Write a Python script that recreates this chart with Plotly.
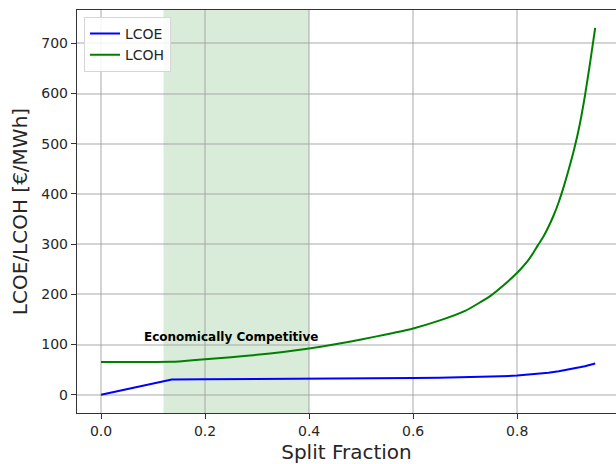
import plotly.graph_objects as go

# Data
lcoe_split = [0.0, 0.136, 0.20, 0.30, 0.40, 0.50, 0.60, 0.65, 0.70, 0.75, 0.80,
              0.83, 0.86, 0.88, 0.90, 0.91, 0.92, 0.93, 0.94, 0.95]
lcoe = [0.0, 30.3, 30.5, 30.8, 31.2, 32.0, 33.0, 33.7, 34.5, 36.0, 38.0,
        40.3, 43.5, 46.5, 50.0, 52.2, 54.5, 56.8, 59.3, 62.0]

lcoh_split = [0.0, 0.05, 0.10, 0.136, 0.15, 0.20, 0.25, 0.30, 0.35, 0.40, 0.45,
              0.50, 0.55, 0.60, 0.65, 0.70, 0.75, 0.775, 0.80, 0.81, 0.82, 0.83,
              0.84, 0.85, 0.86, 0.87, 0.88, 0.89, 0.90, 0.91, 0.92, 0.93, 0.94, 0.95]
lcoh = [65.3, 65.3, 65.3, 65.5, 66.3, 70.5, 74.5, 79.5, 85.0, 92.0, 100.5,
        110.0, 120.5, 132.0, 147.5, 167.0, 198.0, 219.0, 243.0, 254.0, 266.0, 281.0,
        298.0, 314.0, 334.0, 357.0, 384.0, 416.0, 452.0, 491.0, 537.0, 594.0, 660.0, 731.0]

competitive_range = [0.12, 0.40]
annotation_text = "Economically Competitive"
annotation_pos = [0.25, 115]
x_ticks = [0.0, 0.2, 0.4, 0.6, 0.8]
x_tick_labels = ["0.0", "0.2", "0.4", "0.6", "0.8"]
y_ticks = [0, 100, 200, 300, 400, 500, 600, 700]

FONT = "DejaVu Sans"

fig = go.Figure()
fig.add_trace(go.Scatter(x=lcoe_split, y=lcoe, mode="lines", name="LCOE",
                         line=dict(color="blue", width=2)))
fig.add_trace(go.Scatter(x=lcoh_split, y=lcoh, mode="lines", name="LCOH",
                         line=dict(color="green", width=2, shape="spline", smoothing=0.6)))

fig.add_vrect(x0=competitive_range[0], x1=competitive_range[1],
              fillcolor="green", opacity=0.15, line_width=0, layer="below")

fig.add_annotation(x=annotation_pos[0], y=annotation_pos[1],
                   text="<b>" + annotation_text + "</b>", showarrow=False,
                   font=dict(family=FONT, size=12, color="black"))

fig.update_layout(
    width=616, height=464, autosize=False,
    margin=dict(l=77, r=0, t=10, b=51),
    paper_bgcolor="white", plot_bgcolor="white",
    font=dict(family=FONT, size=14, color="#262626"),
    showlegend=True,
    legend=dict(x=0.013, y=0.983, xanchor="left", yanchor="top",
                bgcolor="rgba(255,255,255,0.85)", bordercolor="#d6d6d6",
                borderwidth=1, font=dict(family=FONT, size=14, color="#262626")),
    xaxis=dict(range=[-0.0462, 0.99], tickvals=x_ticks, ticktext=x_tick_labels,
               showgrid=True, gridcolor="rgba(160,160,160,0.45)", gridwidth=1.5,
               zeroline=False, showline=True, linecolor="#333333", linewidth=1.4,
               mirror=True, ticks="outside", ticklen=5, tickcolor="#333333",
               title=dict(text="Split Fraction", font=dict(family=FONT, size=20, color="#262626"),
                          standoff=6)),
    yaxis=dict(range=[-36.5, 766.5], tickvals=y_ticks,
               showgrid=True, gridcolor="rgba(160,160,160,0.45)", gridwidth=1.5,
               zeroline=False, showline=True, linecolor="#333333", linewidth=1.4,
               ticks="outside", ticklen=5, tickcolor="#333333",
               title=dict(text="LCOE/LCOH [€/MWh]", font=dict(family=FONT, size=20, color="#262626"),
                          standoff=8)),
)

fig.write_html("out.html")
